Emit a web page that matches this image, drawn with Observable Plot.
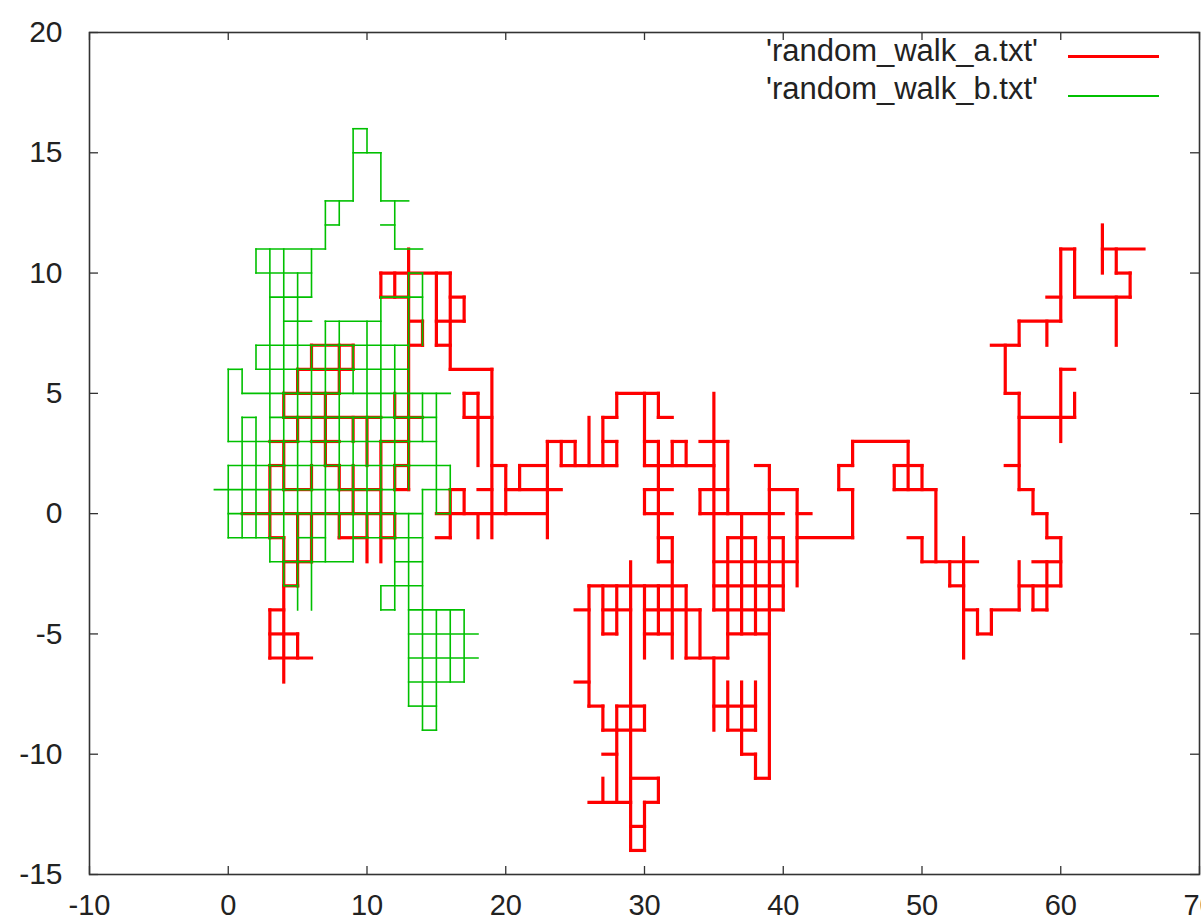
<!DOCTYPE html>
<html>
<head>
<meta charset="utf-8">
<script src="https://cdn.jsdelivr.net/npm/d3@7"></script>
<script src="https://cdn.jsdelivr.net/npm/@observablehq/plot@0.6"></script>
<style>
  html, body { margin: 0; padding: 0; background: #fff; }
  #chart { position: relative; width: 1201px; height: 922px; font-family: "Liberation Sans", Arial, sans-serif; color: #222; }
  .key-text { position: absolute; font-size: 31px; line-height: 36px; white-space: nowrap; text-align: right; }
  .key-line { position: absolute; }
</style>
</head>
<body>
<div id="chart"></div>
<script>
// Axis ticks
const xTicks = [-10, 0, 10, 20, 30, 40, 50, 60, 70];
const yTicks = [-15, -10, -5, 0, 5, 10, 15, 20];
const xDomain = [-10, 70];
const yDomain = [-15, 20];

// Series (file names shown in the key)
const seriesNames = ["'random_walk_a.txt'", "'random_walk_b.txt'"];

// Walk A: horizontal runs [y, x1, x2]
const walkAHorizontal = [
  [10, 11, 16], [9, 11, 13], [9, 16, 17], [8, 13, 14], [8, 15, 17], [7, 6, 9], [7, 13, 14], [7, 15, 16],
  [6, 5, 9], [6, 16, 19], [5, 4, 8], [5, 17, 18], [4, 4, 11], [4, 12, 14], [4, 17, 19],
  [3, 3, 5], [3, 6, 8], [3, 11, 13], [2, 3, 4], [2, 7, 8], [2, 12, 13], [2, 19, 20],
  [1, 4, 6], [1, 8, 11], [1, 12, 13], [1, 16, 17], [1, 18, 19], [0, 1, 12], [0, 15, 23],
  [-1, 3, 4], [-1, 8, 10], [-1, 11, 12], [-1, 15, 16], [-2, 4, 6], [-3, 4, 5], [-4, 3, 4], [-5, 3, 5], [-6, 3, 6],
  [1, 20, 24], [2, 21, 23], [3, 23, 25], [2, 24, 28], [4, 27, 28], [3, 27, 28], [5, 28, 31], [4, 31, 32],
  [3, 30, 31], [2, 30, 35], [3, 32, 33], [1, 30, 32], [0, 30, 32], [-1, 31, 32], [-2, 31, 32], [-3, 26, 33],
  [3, 34, 36], [1, 34, 36], [0, 34, 40], [2, 38, 39], [1, 39, 41], [0, 41, 42], [-1, 36, 38], [-1, 39, 40],
  [-1, 41, 45], [-2, 35, 41], [-3, 35, 40], [-4, 30, 34], [-4, 35, 40],
  [-4, 27, 29], [-5, 27, 28], [-5, 30, 32], [-6, 33, 36], [-4, 25, 26], [-7, 25, 26], [-8, 26, 27], [-8, 28, 30],
  [-9, 27, 30], [-10, 27, 28], [-11, 29, 31], [-12, 26, 29], [-12, 30, 31], [-13, 29, 30], [-14, 29, 30],
  [-5, 36, 39], [-8, 35, 38], [-9, 36, 38], [-10, 37, 38], [-11, 38, 39],
  [3, 45, 49], [2, 44, 45], [1, 44, 45], [2, 48, 50], [1, 48, 51], [-1, 49, 50], [-2, 50, 54], [-3, 52, 53],
  [-4, 53, 54], [-5, 54, 55], [-4, 55, 57], [-3, 57, 60], [-4, 58, 59], [-2, 58, 60], [-1, 59, 60], [0, 58, 59],
  [1, 57, 58], [2, 56, 57], [4, 57, 61],
  [11, 63, 66], [10, 64, 65], [9, 61, 65], [9, 59, 60], [11, 60, 61], [8, 57, 60], [7, 55, 57], [5, 56, 57], [6, 60, 61]
];

// Walk A: vertical runs [x, y1, y2]
const walkAVertical = [
  [13, 1, 11], [11, 9, 10], [12, 9, 10], [15, 7, 10], [16, 6, 10], [17, 8, 9], [14, 7, 8], [6, 6, 7], [8, 5, 7],
  [9, 6, 7], [5, 5, 6], [4, 4, 5], [7, 4, 5], [5, 3, 4], [7, 2, 4], [9, 3, 4], [10, 2, 4], [4, 1, 3], [11, -2, 3],
  [12, 4, 5], [3, -1, 2], [8, 1, 2], [6, 1, 2], [9, 0, 2], [12, 1, 2], [5, -2, 0], [6, -2, 0], [8, -1, 0],
  [10, -2, 0], [12, -1, 0], [4, -7, -1], [5, -3, -2], [3, -6, -4], [5, -6, -5], [17, 4, 5], [18, 2, 5],
  [19, -1, 6], [16, -1, 1], [17, 0, 1], [18, -1, 0], [20, 0, 2], [21, 1, 2], [23, -1, 3],
  [24, 2, 3], [25, 2, 3], [26, 2, 4], [27, 2, 4], [28, 4, 5], [28, 2, 3], [31, 4, 5], [30, 2, 5], [31, -2, 3],
  [31, -5, -3], [32, 2, 3], [33, 2, 3], [30, 0, 1], [32, -6, -1], [29, -14, -2], [35, -4, 5], [36, 0, 3],
  [34, 0, 1], [39, -11, 2], [41, -3, 1], [37, -5, 0], [36, -6, -1], [38, -5, -1], [40, -4, -1], [45, 2, 3],
  [44, 1, 2], [45, -1, 1], [33, -6, -3], [34, -6, -4], [26, -8, -3], [27, -5, -3], [28, -5, -3], [30, -6, -3],
  [27, -9, -8], [28, -9, -8], [30, -9, -8], [28, -12, -9], [27, -12, -11], [31, -12, -11], [30, -14, -12],
  [35, -9, -6], [36, -9, -7], [37, -10, -7], [38, -9, -7], [38, -11, -10],
  [49, 1, 3], [48, 1, 2], [50, 1, 2], [51, -2, 1], [50, -2, -1], [53, -6, -1], [52, -3, -2], [54, -5, -4],
  [55, -5, -4], [57, -4, -2], [58, -4, -3], [59, -4, -2], [60, -3, -1], [59, -1, 0], [58, 0, 1], [57, 1, 5],
  [60, 3, 6], [61, 4, 5], [63, 10, 12], [64, 10, 11], [65, 9, 10], [64, 7, 9], [61, 9, 11], [60, 8, 11],
  [59, 7, 8], [57, 7, 8], [56, 5, 7]
];

// Walk B: horizontal runs [y, x1, x2]
const walkBHorizontal = [
  [16, 9, 10], [15, 9, 11], [13, 7, 9], [13, 11, 13], [12, 7, 8], [12, 11, 12], [11, 2, 7], [11, 12, 14],
  [10, 2, 6], [10, 13, 14], [9, 3, 6], [9, 11, 14], [8, 4, 6], [8, 7, 11], [7, 2, 13], [6, 0, 1], [6, 2, 13],
  [5, 1, 16], [4, 1, 2], [4, 3, 15], [3, 0, 15], [2, 0, 16], [1, -1, 12], [1, 14, 16], [0, 0, 14], [0, 15, 16],
  [-1, 0, 4], [-1, 5, 7], [-1, 9, 14], [-2, 3, 9], [-2, 12, 14], [-3, 4, 5], [-3, 11, 14], [-4, 11, 12],
  [-4, 13, 17], [-5, 13, 18], [-6, 13, 18], [-7, 13, 17], [-8, 13, 15], [-9, 14, 15]
];

// Walk B: vertical runs [x, y1, y2]
const walkBVertical = [
  [9, 13, 16], [10, 15, 16], [11, 13, 15], [7, 11, 13], [8, 12, 13], [12, 11, 13], [2, 10, 11], [6, 9, 11],
  [3, -2, 11], [4, -3, 11], [5, -4, 10], [6, -4, 7], [7, -2, 8], [8, -1, 8], [9, 5, 7], [9, -2, 4],
  [10, -1, 8], [11, -1, 9], [11, -4, -3], [12, -4, 7], [13, 1, 10], [13, -8, 0], [14, 7, 10], [14, 3, 5],
  [14, -9, 1], [15, 0, 5], [15, -9, -4], [16, 0, 2], [16, -7, -4], [17, -7, -4], [0, 3, 6], [0, -1, 2],
  [1, 5, 6], [1, -1, 4], [2, 6, 7], [2, -1, 4]
];

// Turn the runs into link segments
function segments(horizontal, vertical) {
  return [
    ...horizontal.map(([y, x1, x2]) => ({x1, x2, y1: y, y2: y})),
    ...vertical.map(([x, y1, y2]) => ({x1: x, x2: x, y1, y2}))
  ];
}
const segA = segments(walkAHorizontal, walkAVertical);
const segB = segments(walkBHorizontal, walkBVertical);

const W = 1201, H = 922;
const margin = {top: 32, right: 2, bottom: 48, left: 89};
const pxPerX = (W - margin.left - margin.right) / (xDomain[1] - xDomain[0]);
const pxPerY = (H - margin.top - margin.bottom) / (yDomain[1] - yDomain[0]);
const tickX = 8 / pxPerY;  // inward tick length on the x-axes, in y units
const tickY = 9 / pxPerX;  // inward tick length on the y-axes, in x units

const colors = {a: "#ff0000", b: "#00c000", frame: "#333"};

const chart = Plot.plot({
  width: W,
  height: H,
  marginTop: margin.top,
  marginRight: margin.right,
  marginBottom: margin.bottom,
  marginLeft: margin.left,
  x: {domain: xDomain},
  y: {domain: yDomain},
  style: {fontFamily: '"Liberation Sans", Arial, sans-serif', fontSize: "30px", color: "#222", background: "white"},
  marks: [
    Plot.link(segA, {x1: "x1", y1: "y1", x2: "x2", y2: "y2", stroke: colors.a, strokeWidth: 3.2, strokeLinecap: "square"}),
    Plot.link(segB, {x1: "x1", y1: "y1", x2: "x2", y2: "y2", stroke: colors.b, strokeWidth: 1.6, strokeLinecap: "square"}),
    // inward ticks on all four sides
    Plot.ruleX(xTicks, {x: d => d, y1: yDomain[0], y2: yDomain[0] + tickX, stroke: colors.frame, strokeWidth: 1.3}),
    Plot.ruleX(xTicks, {x: d => d, y1: yDomain[1] - tickX, y2: yDomain[1], stroke: colors.frame, strokeWidth: 1.3}),
    Plot.ruleY(yTicks, {y: d => d, x1: xDomain[0], x2: xDomain[0] + tickY, stroke: colors.frame, strokeWidth: 1.3}),
    Plot.ruleY(yTicks, {y: d => d, x1: xDomain[1] - tickY, x2: xDomain[1], stroke: colors.frame, strokeWidth: 1.3}),
    Plot.frame({stroke: colors.frame, strokeWidth: 1.6}),
    Plot.axisX({ticks: xTicks, tickSize: 0, tickPadding: 20, label: null, tickFormat: d => String(d), fontSize: 29}),
    Plot.axisY({ticks: yTicks, tickSize: 0, tickPadding: 27, label: null, tickFormat: d => String(d), fontSize: 30})
  ]
});

const root = document.getElementById("chart");
root.appendChild(chart);

// Key in the upper right corner of the frame
const keyStyles = [
  {color: colors.a, width: 3, lineTop: 55, textTop: 33},
  {color: colors.b, width: 2, lineTop: 95, textTop: 71}
];
seriesNames.forEach((name, i) => {
  const s = keyStyles[i];
  const text = document.createElement("div");
  text.className = "key-text";
  text.textContent = name;
  text.style.right = (W - 1038) + "px";
  text.style.top = s.textTop + "px";
  root.appendChild(text);
  const line = document.createElement("div");
  line.className = "key-line";
  line.style.left = "1068px";
  line.style.width = "91px";
  line.style.height = s.width + "px";
  line.style.top = s.lineTop + "px";
  line.style.background = s.color;
  root.appendChild(line);
});
</script>
</body>
</html>
